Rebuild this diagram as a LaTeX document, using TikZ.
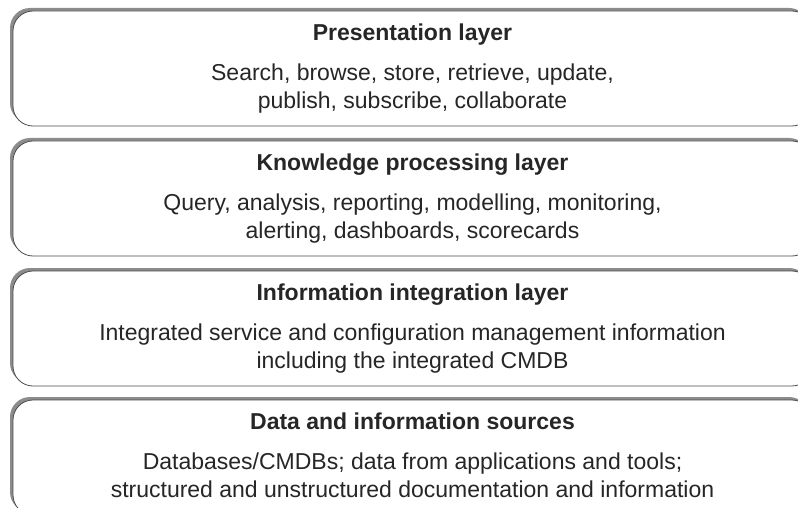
\documentclass[tikz,border=0pt]{standalone}
\usepackage{fontspec}
\setmainfont{Liberation Sans}
\usetikzlibrary{positioning,shadows}

\tikzset{
  layerbox/.style={draw=black!70, line width=0.8pt, fill=white, rounded corners=20pt,
    minimum width=799pt, minimum height=115pt, inner sep=0pt,
    general shadow={fill=black!45, shadow xshift=-3pt, shadow yshift=3pt}},
  layertitle/.style={font=\fontsize{23}{28}\selectfont\bfseries, text=black!85, anchor=base, inner sep=0pt},
  layertext/.style={font=\fontsize{23}{28}\selectfont, text=black!85, align=center, anchor=base, inner sep=0pt}
}

\begin{document}
\begin{tikzpicture}[x=1pt, y=-1pt]
    \useasboundingbox (0,0) rectangle (798,508);
    \clip (0,0) rectangle (798,508);

    % Layers
    \node[layerbox] (pres) at (412.5,68.5) {};
    \node[layerbox] (know) at (412.5,198.5) {};
    \node[layerbox] (info) at (412.5,328.5) {};
    \node[layerbox] (data) at (412.5,457.5) {};

    % Titles
    \node[layertitle] (prestitle) at ([yshift=-30pt]pres.north) {Presentation layer};
    \node[layertitle] (knowtitle) at ([yshift=-30pt]know.north) {Knowledge processing layer};
    \node[layertitle] (infotitle) at ([yshift=-30pt]info.north) {Information integration layer};
    \node[layertitle] (datatitle) at ([yshift=-30pt]data.north) {Data and information sources};

    % Contents (base is the second line)
    \node[layertext] (prestext) at ([yshift=-98pt]pres.north)
        {Search, browse, store, retrieve, update,\\publish, subscribe, collaborate};
    \node[layertext] (knowtext) at ([yshift=-98pt]know.north)
        {Query, analysis, reporting, modelling, monitoring,\\alerting, dashboards, scorecards};
    \node[layertext] (infotext) at ([yshift=-98pt]info.north)
        {Integrated service and configuration management information\\including the integrated CMDB};
    \node[layertext] (datatext) at ([yshift=-98pt]data.north)
        {Databases/CMDBs; data from applications and tools;\\structured and unstructured documentation and information};
\end{tikzpicture}
\end{document}
